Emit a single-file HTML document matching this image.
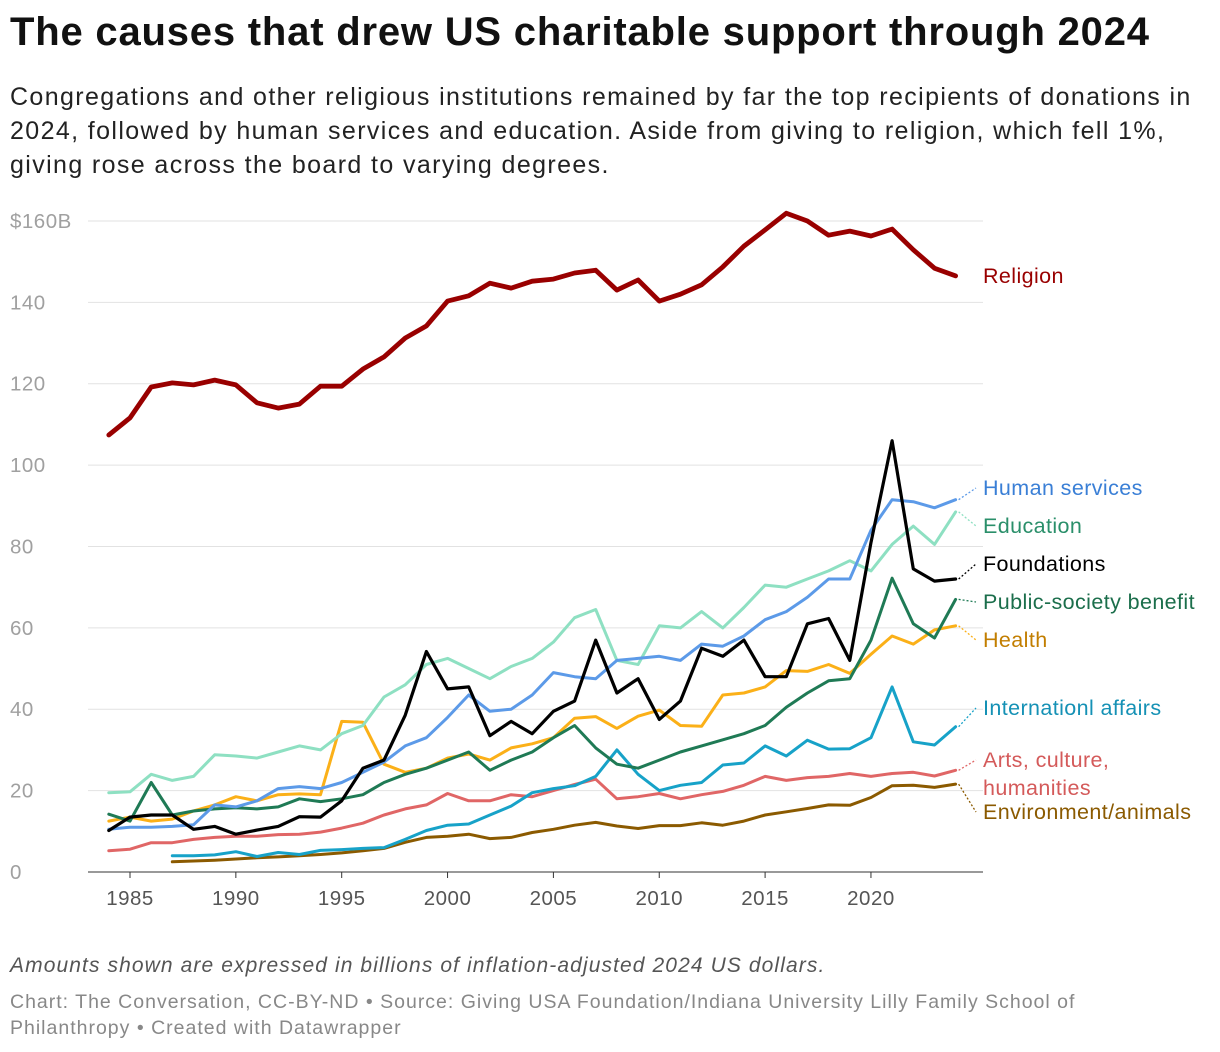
<!DOCTYPE html>
<html><head><meta charset="utf-8">
<style>
body{margin:0;background:#fff;font-family:"Liberation Sans",Roboto,sans-serif;}
#wrap{position:relative;width:1220px;height:1052px;overflow:hidden}
h1{position:absolute;left:10px;top:10px;margin:0;font-size:40px;font-weight:bold;color:#111;letter-spacing:0.8px;white-space:nowrap}
.sub{position:absolute;left:10px;top:80px;width:1210px;font-size:25px;line-height:34px;color:#222;letter-spacing:1.38px;white-space:nowrap}
.note{position:absolute;left:10px;top:954px;font-size:21px;font-style:italic;color:#555;letter-spacing:1.1px;white-space:nowrap}
.src{position:absolute;left:10px;top:989px;width:1200px;font-size:19.5px;line-height:26px;color:#888;letter-spacing:1.0px;white-space:nowrap}
</style></head><body>
<div id="wrap">
<h1>The causes that drew US charitable support through 2024</h1>
<div class="sub">Congregations and other religious institutions remained by far the top recipients of donations in<br>2024, followed by human services and education. Aside from giving to religion, which fell 1%,<br>giving rose across the board to varying degrees.</div>
<svg id="chart" width="1220" height="1052" style="position:absolute;left:0;top:0"></svg>
<div class="note">Amounts shown are expressed in billions of inflation-adjusted 2024 US dollars.</div>
<div class="src">Chart: The Conversation, CC-BY-ND • Source: Giving USA Foundation/Indiana University Lilly Family School of<br>Philanthropy • Created with Datawrapper</div>
</div>
<script>
const yTicks=[0,20,40,60,80,100,120,140,160];
const xTicks=[1985,1990,1995,2000,2005,2010,2015,2020];
const religion=[107.4,111.6,119.2,120.2,119.7,120.9,119.7,115.3,114.0,115.0,119.4,119.4,123.6,126.6,131.2,134.2,140.3,141.6,144.7,143.5,145.2,145.7,147.2,147.9,143.0,145.5,140.3,142.0,144.3,148.7,153.8,157.8,161.9,160.0,156.5,157.5,156.3,158.0,152.9,148.4,146.5];
const humanServices=[10.5,11,11,11.2,11.6,16.5,16,17.5,20.5,21,20.5,22,24.5,27,31,33,38,43.5,39.5,40,43.5,49,48,47.5,52,52.5,53,52,56,55.5,58,62,64,67.5,72,72,84,91.5,91,89.5,91.5];
const education=[19.5,19.7,24,22.5,23.5,28.8,28.5,28,29.5,31,30,34,36,43,46,51,52.5,50,47.5,50.5,52.5,56.5,62.5,64.5,52,51,60.5,60,64,60,65,70.5,70,72,74,76.5,74,80.5,85,80.5,88.5];
const foundations=[10.2,13.5,14,14,10.5,11.2,9.3,10.3,11.2,13.6,13.5,17.5,25.5,27.5,38.5,54.2,45,45.5,33.5,37,34,39.5,42,57,44,47.5,37.5,42,55,53,57,48,48,61,62.3,52,81,106,74.5,71.5,72];
const publicSociety=[14.2,12.5,22,14,15,15.5,15.8,15.5,16,18,17.3,18,19,22,24,25.5,27.5,29.5,25,27.5,29.5,33,36,30.5,26.5,25.5,27.5,29.5,31,32.5,34,36,40.5,44,47,47.5,57,72.2,61,57.5,67];
const health=[12.5,13.5,12.5,13,15,16.5,18.5,17.5,19,19.2,19,37,36.8,26.5,24.5,25.5,28,29,27.5,30.5,31.5,33,37.8,38.2,35.3,38.3,39.8,36,35.8,43.5,44,45.5,49.5,49.3,51,48.8,53.5,58,56,59.5,60.5];
const international=[4,4,4.2,5,3.8,4.8,4.3,5.3,5.5,5.8,6,8,10.2,11.5,11.8,14,16.2,19.5,20.5,21.2,23.5,30,24,20,21.3,22,26.3,26.8,31,28.5,32.4,30.2,30.3,33,45.5,32,31.2,35.7];
const arts=[5.2,5.6,7.2,7.2,8,8.5,8.8,8.8,9.2,9.3,9.8,10.8,12,14,15.5,16.5,19.3,17.5,17.5,19,18.5,20,21.5,22.8,18,18.5,19.3,18,19,19.8,21.3,23.5,22.5,23.2,23.5,24.2,23.5,24.2,24.5,23.6,25];
const environment=[2.5,2.7,2.9,3.2,3.5,3.7,4,4.3,4.7,5.2,5.8,7.3,8.5,8.8,9.3,8.2,8.5,9.7,10.5,11.5,12.2,11.3,10.7,11.4,11.4,12.1,11.5,12.5,14,14.8,15.6,16.5,16.4,18.3,21.2,21.3,20.8,21.6];

const NS='http://www.w3.org/2000/svg';
const svg=document.getElementById('chart');
const x=yr=>130+(yr-1985)*21.17;
const y=v=>872-v*4.069;
function mk(t,a,p){const e=document.createElementNS(NS,t);for(const k in a)e.setAttribute(k,a[k]);(p||svg).appendChild(e);return e;}
yTicks.forEach(t=>{
  if(t>0){const g=mk('line',{x1:88,x2:983,y1:y(t),y2:y(t),stroke:'#e2e2e2','stroke-width':1});
  
  }
  const l=mk('text',{x:10,y:y(t)+7,'font-size':20.5,fill:'#a0a0a0','font-family':'Liberation Sans,sans-serif','letter-spacing':'0.5'});
  l.textContent=t===160?'$160B':String(t);
  
  
});
const base=mk('line',{x1:88,x2:983,y1:872,y2:872,stroke:'#333','stroke-width':1});


xTicks.forEach(t=>{
  const tk=mk('line',{x1:x(t),x2:x(t),y1:872,y2:878,stroke:'#333','stroke-width':1});
  
  
  const l=mk('text',{x:x(t),y:905,'font-size':20.5,fill:'#555','text-anchor':'middle','font-family':'Liberation Sans,sans-serif','letter-spacing':'0.5'});
  l.textContent=t;
  
  
});
const series=[
 {n:'environment',d:environment,s:1987,c:'#8b5a00',lc:'#8b5a00',w:3,label:['Environment/animals'],ly:812},
 {n:'arts',d:arts,s:1984,c:'#e06666',lc:'#d45a5a',w:3,label:['Arts, culture,','humanities'],ly:760},
 {n:'international',d:international,s:1987,c:'#17a2c8',lc:'#1591b5',w:3,label:['Internationl affairs'],ly:708},
 {n:'health',d:health,s:1984,c:'#fbb018',lc:'#c27e00',w:3,label:['Health'],ly:640},
 {n:'public-society',d:publicSociety,s:1984,c:'#1f7a55',lc:'#1b6e4b',w:3,label:['Public-society benefit'],ly:602},
 {n:'education',d:education,s:1984,c:'#8ee0c2',lc:'#2a8f6a',w:3,label:['Education'],ly:526},
 {n:'human-services',d:humanServices,s:1984,c:'#5c9ae8',lc:'#3a7fd6',w:3,label:['Human services'],ly:488},
 {n:'foundations',d:foundations,s:1984,c:'#000',lc:'#000',w:3.2,label:['Foundations'],ly:564},
 {n:'religion',d:religion,s:1984,c:'#990000',lc:'#990000',w:4.8,label:['Religion'],ly:276}
];
series.forEach(se=>{
  const pts=se.d.map((v,i)=>x(se.s+i).toFixed(1)+','+y(v).toFixed(1)).join(' ');
  const p=mk('polyline',{points:pts,fill:'none',stroke:se.c,'stroke-width':se.w,'stroke-linejoin':'round','stroke-linecap':'round'});
  
  
  const last=se.d[se.d.length-1];const lx=x(se.s+se.d.length-1),ly=y(last);
  if(se.n!=='religion'){
    const c=mk('line',{x1:lx+3,y1:ly,x2:976,y2:se.ly,stroke:se.c,'stroke-width':1.3,'stroke-dasharray':'2,2'});
    
    
  }
  se.label.forEach((t,k)=>{
    const l=mk('text',{x:983,y:se.ly+7+k*28,'font-size':21.5,fill:se.lc,'font-family':'Liberation Sans,sans-serif','letter-spacing':'0.4'});
    l.textContent=t;
    
    
  });
});
</script>
</body></html>
